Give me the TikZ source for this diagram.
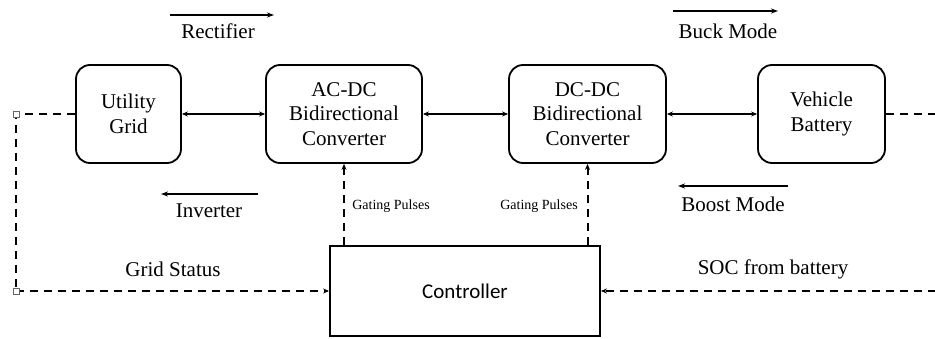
\documentclass[tikz,border=0pt]{standalone}
\usepackage{fontspec}
\setmainfont{Liberation Serif}
\newfontfamily\ctrlfont{Carlito}
\usetikzlibrary{arrows.meta}
\begin{document}
\begin{tikzpicture}[x=1pt,y=-1pt,
  blk/.style={draw,line width=1.8pt,rounded corners=14pt,align=center,
    font=\fontsize{21}{24.5}\selectfont,inner sep=0pt},
  lbl/.style={font=\fontsize{21}{24}\selectfont,inner sep=0pt},
  small/.style={font=\fontsize{14}{16}\selectfont,inner sep=0pt},
  dbl/.style={line width=1.8pt,{Stealth[length=6pt,width=5pt]}-{Stealth[length=6pt,width=5pt]}},
  modearr/.style={line width=1.8pt,-{Stealth[length=7pt,width=5pt]}},
  dsh/.style={line width=2pt,dash pattern=on 8pt off 6pt},
  dsharr/.style={dsh,-{Stealth[length=6pt,width=5pt]}},
  handle/.style={draw=black!60,fill=white,line width=0.7pt,minimum size=6pt,inner sep=0pt}]
\useasboundingbox (0,0) rectangle (935,339);
\node[blk,minimum width=105pt,minimum height=98pt] (grid) at (128.5,114) {Utility\\Grid};
\node[blk,minimum width=156pt,minimum height=98pt] (acdc) at (344,114) {AC-DC\\Bidirectional\\Converter};
\node[blk,minimum width=157pt,minimum height=98pt] (dcdc) at (587.5,114) {DC-DC\\Bidirectional\\Converter};
\node[blk,minimum width=127pt,minimum height=98pt] (batt) at (821.5,114) {Vehicle\\Battery};
\node[draw,line width=1.8pt,minimum width=270pt,minimum height=90pt,inner sep=0pt,
  font=\ctrlfont\fontsize{21}{24}\selectfont] (ctrl) at (465,291) {Controller};
% power flow
\draw[dbl] (grid.east) -- (acdc.west);
\draw[dbl] (acdc.east) -- (dcdc.west);
\draw[dbl] (dcdc.east) -- (batt.west);
% mode arrows
\coordinate (r1) at (170,15); \coordinate (r2) at (274,15);
\coordinate (i1) at (258,194); \coordinate (i2) at (161,194);
\coordinate (b1) at (673,11); \coordinate (b2) at (778,11);
\coordinate (o1) at (788,186); \coordinate (o2) at (678,186);
\draw[modearr] (r1) -- (r2);
\draw[modearr] (i1) -- (i2);
\draw[modearr] (b1) -- (b2);
\draw[modearr] (o1) -- (o2);
\node[lbl] (trect) at (218,31) {Rectifier};
\node[lbl] (tinv) at (209,211) {Inverter};
\node[lbl] (tbuck) at (728,31) {Buck Mode};
\node[lbl] (tboost) at (733,204) {Boost Mode};
% gating pulses
\draw[dsharr] (ctrl.north -| acdc.south) -- (acdc.south);
\draw[dsharr] (ctrl.north -| dcdc.south) -- (dcdc.south);
\node[small] (g1) at (391,206) {Gating Pulses};
\node[small] (g2) at (539,206) {Gating Pulses};
% grid status loop
\coordinate (lt) at (16,114);
\coordinate (lb) at (16,291);
\draw[dsh] (grid.west) -- (lt) -- (lb);
\draw[dsharr] (lb) -- (ctrl.west);
\node[handle] (h1) at (lt) {};
\node[handle] (h2) at (lb) {};
\node[lbl] (tgs) at (173,269) {Grid Status};
% SOC
\coordinate (rt) at (936,114);
\coordinate (rb) at (936,291);
\draw[dsh] (batt.east) -- (rt);
\draw[dsharr] (rb) -- (ctrl.east);
\node[lbl] (tsoc) at (773,269) {SOC from battery};
\end{tikzpicture}
\end{document}
